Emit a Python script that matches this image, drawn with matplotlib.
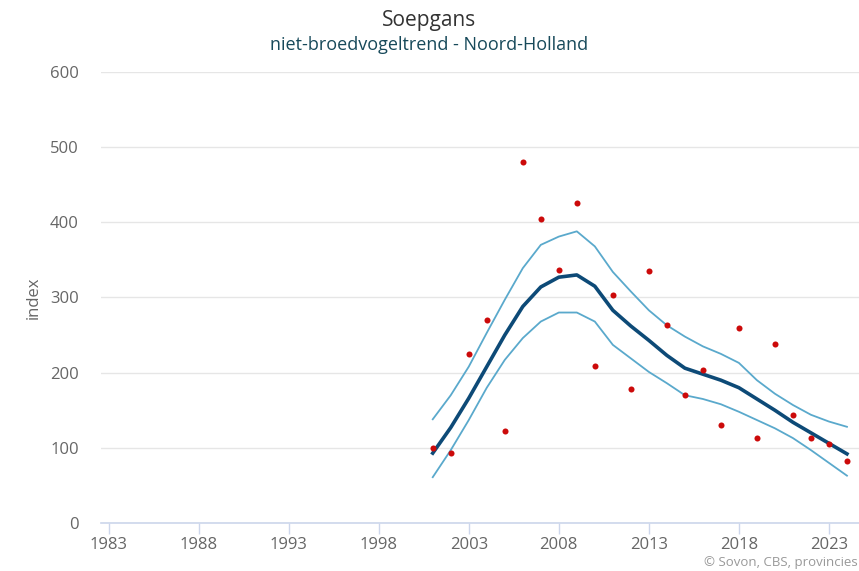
import matplotlib.pyplot as plt

years = list(range(2001, 2025))
index_points = [100, 93, 225, 270, 122, 480, 404, 337, 426, 209, 303, 178,
                335, 263, 170, 204, 130, 259, 113, 238, 144, 113, 105, 82]
trend = [93, 127, 166, 208, 250, 288, 314, 327, 330, 315, 283, 262,
         243, 223, 206, 198, 190, 180, 165, 150, 134, 120, 106, 92]
upper = [138, 170, 208, 253, 297, 339, 370, 381, 388, 368, 334, 308,
         283, 263, 248, 235, 225, 213, 190, 172, 157, 144, 135, 128]
lower = [61, 97, 137, 180, 217, 246, 268, 280, 280, 268, 237, 219,
         201, 186, 170, 165, 158, 148, 137, 126, 113, 97, 80, 63]
xticks = [1983, 1988, 1993, 1998, 2003, 2008, 2013, 2018, 2023]
yticks = [0, 100, 200, 300, 400, 500, 600]

plt.rcParams['font.family'] = ['Open Sans', 'DejaVu Sans']

fig = plt.figure(figsize=(8.59, 5.71), dpi=100)
ax = fig.add_axes([0.1176, 0.084, 0.882, 0.79])

ax.plot(years, upper, color='#5aa9cc', linewidth=1.3, zorder=3)
ax.plot(years, lower, color='#5aa9cc', linewidth=1.3, zorder=3)
ax.plot(years, trend, color='#0d4a77', linewidth=2.6, zorder=4)
ax.scatter(years, index_points, s=19, color='#cc0a0a', zorder=5, linewidths=0)

ax.set_xlim(1982.58, 2024.65)
ax.set_ylim(0, 600)
ax.set_xticks(xticks)
ax.set_yticks(yticks)

# Gridlines
ax.yaxis.grid(True, color='#e6e6e6', linewidth=1)
ax.set_axisbelow(True)
for s in ['top', 'right', 'left']:
    ax.spines[s].set_visible(False)
ax.spines['bottom'].set_color('#ccd6eb')
ax.spines['bottom'].set_linewidth(1.2)
ax.tick_params(axis='x', colors='#ccd6eb', length=8, width=1, labelcolor='#666666',
               labelsize=12, pad=2)
ax.tick_params(axis='y', length=0, labelcolor='#666666', labelsize=12, pad=16)

ax.set_ylabel('index', color='#666666', fontsize=12, labelpad=6)

fig.text(0.5, 0.964, 'Soepgans', ha='center', va='center', fontsize=15, color='#333333')
fig.text(0.5, 0.921, 'niet-broedvogeltrend - Noord-Holland', ha='center', va='center',
         fontsize=13, color='#17495a')
fig.text(0.998, 0.003, '\u00a9 Sovon, CBS, provincies', ha='right', va='bottom',
         fontsize=9.5, color='#999999')

fig.savefig('out.png', dpi=100)
